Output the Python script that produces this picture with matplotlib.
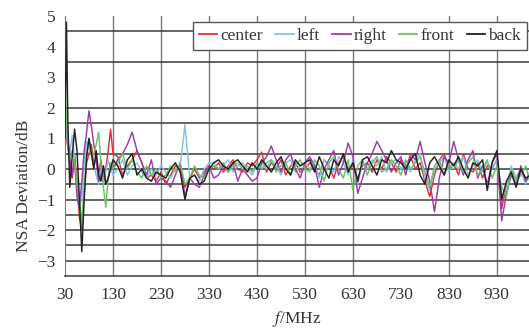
import matplotlib
matplotlib.use("Agg")
import matplotlib.pyplot as plt

plt.rcParams["font.family"] = ["Liberation Serif", "DejaVu Serif"]
plt.rcParams["mathtext.fontset"] = "stix"
plt.rcParams["font.size"] = 12.5

# frequency axis (MHz): fine steps at the low end, 10 MHz afterwards
freq = [30, 33, 36, 40, 45, 50, 55, 60, 65, 70, 75, 80, 85, 90, 95, 100,
        105, 110, 115, 120, 125, 130] + list(range(140, 1001, 10))

center = [1.2, 1.0, 0.7, 0.2, -0.3, 0.5, -0.4, -1.6, -2.0, -0.8, 0.2, 0.5, 0.8, 0.1, 0.4, -0.2,
          0.3, -0.4, 0.0, 0.6, 1.3, 0.5,
          0.4, -0.2, 0.1, 0.3, 0.6, 0.2, -0.3, -0.2, -0.4, -0.1,
          -0.5, -0.2, 0.1, 0.0, -0.6, -0.3, 0.0, -0.3, -0.1, 0.1,
          0.0, 0.2, -0.1, 0.1, 0.3, 0.0, -0.1, 0.2, 0.1, 0.3,
          0.55, -0.1, 0.2, 0.0, 0.3, -0.2, 0.1, 0.2, -0.1, 0.0,
          0.2, 0.0, -0.2, 0.3, 0.1, -0.3, 0.2, 0.4, 0.0, 0.1,
          -0.3, 0.1, 0.2, -0.1, 0.3, 0.0, 0.4, 0.2, -0.1, 0.3,
          0.1, 0.4, 0.0, 0.2, -0.4, -0.9, -0.2, 0.3, 0.5, 0.0,
          0.2, -0.2, 0.5, 0.0, -0.1, 0.2, -0.3, 0.1, 0.0, 0.3,
          -1.3, -0.5, -0.2, -0.3, 0.0, -0.4, -0.1]

left = [1.5, 1.2, 0.8, 0.5, 1.1, 0.3, -0.8, -1.2, -1.0, 0.2, 0.9, 0.7, 0.4, 0.1, -0.2, -0.5,
        0.0, -0.4, -0.1, 0.3, 0.0, -0.2,
        0.0, 0.3, -0.2, 0.1, 0.2, -0.1, -0.3, 0.0, -0.2, 0.1,
        -0.1, -0.3, 0.0, 0.1, 1.45, -0.3, -0.2, -0.4, 0.0, 0.2,
        0.2, 0.0, 0.1, 0.3, -0.1, 0.1, 0.2, 0.0, -0.2, 0.1,
        0.2, 0.0, 0.3, 0.1, -0.2, 0.2, 0.3, -0.1, 0.1, 0.2,
        0.0, 0.2, -0.3, 0.3, 0.1, -0.1, 0.4, 0.2, -0.2, 0.3,
        -0.5, 0.2, 0.0, 0.3, 0.1, 0.4, -0.1, 0.2, 0.3, 0.0,
        0.2, -0.1, 0.3, 0.5, -0.3, -0.7, 0.0, 0.2, 0.4, -0.1,
        0.2, 0.0, 0.4, -0.2, 0.1, 0.3, -0.1, 0.2, 0.0, 0.3,
        -0.9, -0.6, 0.1, -0.3, -0.1, -0.5, 0.0]

right = [1.7, 1.5, 1.0, 0.4, -0.2, 0.3, -0.9, -1.3, -0.4, 0.6, 1.2, 1.9, 1.4, 0.8, 0.3, -0.4,
         -0.2, 0.1, -0.5, -0.3, 0.2, 0.0,
         0.3, 0.5, 0.8, 1.2, 0.6, 0.2, -0.2, 0.3, -0.5, -0.3,
         -0.4, -0.6, -0.2, 0.2, -0.9, -0.3, -0.5, -0.6, -0.2, 0.1,
         -0.3, -0.2, 0.1, -0.1, 0.2, -0.4, 0.0, -0.2, -0.4, -0.3,
         0.2, 0.4, 0.75, 0.3, -0.1, 0.3, 0.5, 0.0, -0.3, 0.2,
         0.4, 0.1, -0.6, 0.0, 0.3, 0.6, -0.2, 0.2, 0.85, 0.4,
         -0.8, -0.3, 0.2, 0.5, 0.9, 0.6, 0.3, -0.1, 0.2, 0.4,
         -0.2, 0.5, 0.3, 0.9, 0.2, -0.4, -1.4, -0.3, 0.4, 0.2,
         0.9, 0.3, -0.2, 0.3, 0.6, -0.3, 0.1, -0.5, 0.2, 0.5,
         -1.7, -0.8, -0.2, -0.5, 0.1, -0.4, -0.2]

front = [2.6, 1.6, 0.9, 0.3, 0.6, 0.2, -0.5, -0.9, -1.8, -0.6, 0.4, 1.0, 0.5, 0.5, 0.8, 1.2,
         0.2, -0.6, -1.25, -0.3, 0.2, 0.0,
         0.2, 0.5, 0.0, 0.3, -0.1, -0.3, 0.1, -0.2, 0.0, -0.3,
         -0.2, 0.1, -0.1, 0.2, -0.5, -0.3, 0.1, -0.2, -0.3, 0.0,
         0.1, 0.0, 0.2, -0.1, 0.1, 0.2, 0.0, 0.1, -0.1, 0.2,
         0.0, 0.2, 0.3, -0.1, 0.1, 0.2, -0.2, 0.1, 0.3, 0.0,
         -0.1, 0.3, 0.1, -0.4, 0.2, 0.4, 0.0, -0.3, 0.3, -0.7,
         0.1, 0.3, -0.2, 0.2, 0.4, -0.1, 0.0, 0.3, 0.1, -0.2,
         0.3, 0.0, 0.2, 0.4, -0.1, -0.6, 0.1, 0.3, -0.2, 0.1,
         0.0, 0.3, -0.1, 0.2, 0.4, -0.2, 0.0, 0.3, -0.3, 0.1,
         -0.6, -0.9, 0.0, -0.4, -0.2, 0.1, -0.5]

back = [1.0, 4.8, 1.5, -0.6, 0.4, 1.3, 0.6, -1.0, -2.7, -1.0, 0.4, 1.0, 0.5, 0.0, 0.6, -0.2,
        -0.4, 0.1, -0.5, -0.3, 0.0, 0.3,
        0.1, -0.3, 0.3, 0.5, -0.2, 0.0, -0.3, -0.4, -0.1, -0.2,
        -0.3, 0.0, 0.2, -0.1, -1.0, -0.3, -0.2, -0.5, -0.4, 0.0,
        0.2, 0.3, 0.1, 0.0, 0.2, 0.3, 0.1, -0.1, 0.2, 0.0,
        0.3, 0.1, -0.1, 0.2, 0.4, 0.0, -0.2, 0.3, 0.1, 0.2,
        0.3, -0.1, 0.4, 0.0, -0.3, 0.3, 0.1, 0.5, -0.1, 0.2,
        -0.4, 0.3, 0.4, 0.1, -0.2, 0.3, 0.2, 0.6, 0.3, 0.2,
        0.0, 0.3, 0.5, -0.2, -0.5, 0.2, 0.4, 0.1, -0.2, 0.3,
        0.1, 0.4, 0.0, -0.3, 0.2, 0.1, 0.3, -0.7, 0.2, 0.6,
        -1.0, -0.4, -0.1, -0.6, 0.0, -0.3, -0.2]

series = [("center", center, "#e03038"),
          ("left", left, "#7ec4e6"),
          ("right", right, "#a03aa8"),
          ("front", front, "#6cc068"),
          ("back", back, "#222222")]

xticks = [30, 130, 230, 330, 430, 530, 630, 730, 830, 930]
vgrid = [130, 230, 330, 430, 530, 630, 830, 930]
hgrid = [4.5, 3.5, 2, 1.5, 0.5, 0, -0.5, -1, -1.5, -2, -2.5, -3]
yticks = [-3, -2, -1, 0, 1, 2, 3, 4, 5]

fig = plt.figure(figsize=(5.29, 3.29), dpi=100)
ax = fig.add_axes([65 / 529, 53 / 329, 465.5 / 529, 260 / 329])

for x in vgrid:
    ax.axvline(x, color="#7a7a7a", lw=1.0, zorder=1)
for y in hgrid:
    ax.axhline(y, color="#3a3a3a", lw=1.1, zorder=1)

for name, vals, col in series:
    ax.plot(freq, vals, color=col, lw=1.05, label=name, zorder=3)

ax.set_xlim(30, 1000)
ax.set_ylim(-3.5, 5)
ax.set_xticks(xticks)
ax.set_yticks(yticks)
ax.set_yticklabels(["\u2212%d" % -v if v < 0 else "%d" % v for v in yticks])
ax.tick_params(axis="x", length=0, pad=8, labelcolor="#333333")
ax.tick_params(axis="y", length=0, pad=7, labelcolor="#333333")

for s in ["top", "right"]:
    ax.spines[s].set_visible(False)
ax.spines["left"].set_color("#7a7a7a")
ax.spines["bottom"].set_color("#3a3a3a")
ax.spines["bottom"].set_linewidth(1.1)

leg = ax.legend(loc="lower left", bbox_to_anchor=(0.275, 0.869, 0.7175, 0.108),
                mode="expand", ncol=5, frameon=True, fancybox=False,
                handlelength=1.05, handletextpad=0.2, columnspacing=0.6,
                borderpad=0.35, borderaxespad=0)
leg.get_frame().set_edgecolor("#555555")
leg.get_frame().set_linewidth(1.0)
leg.get_frame().set_alpha(1)
for t in leg.get_texts():
    t.set_color("#333333")
for h in leg.get_lines():
    h.set_linewidth(1.3)

fig.text(24 / 529, 1 - 186 / 329, "NSA Deviation/dB", rotation=90,
         ha="center", va="center", color="#333333")
fig.text(297 / 529, 1 - 319 / 329, "$f$/MHz", ha="center", va="center",
         color="#333333")

fig.savefig("out.png", dpi=100)
